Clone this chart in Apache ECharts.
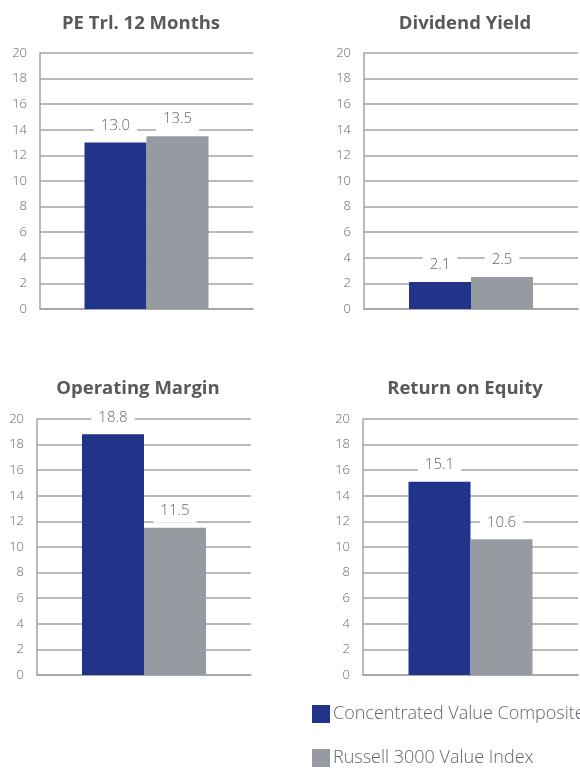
<!DOCTYPE html>
<html lang="en">
<head>
    <meta charset="UTF-8">
    <title>Portfolio characteristics</title>
    <script src="https://cdn.jsdelivr.net/npm/echarts@6/dist/echarts.min.js"></script>
    <style>
        html, body { margin: 0; padding: 0; background: #fff; }
        #main { width: 580px; height: 768px; }
    </style>
</head>
<body>
<div id="main"></div>
<script type="text/javascript">
    // values
    var metrics = ['PE Trl. 12 Months', 'Dividend Yield', 'Operating Margin', 'Return on Equity'];
    var seriesNames = ['Concentrated Value Composite', 'Russell 3000 Value Index'];
    var composite = [13.0, 2.1, 18.8, 15.1];
    var russell = [13.5, 2.5, 11.5, 10.6];
    var yMin = 0, yMax = 20, yStep = 2;

    var colors = ['#21338a', '#969ba1'];
    var lineColor = '#a3a3a3';
    var font = '"Open Sans", "Noto Sans", sans-serif';

    // panel boxes (left, top, width, height)
    var panels = [
        { left: 40, top: 53, width: 213, height: 256, titleX: 136, titleY: 9 },
        { left: 364, top: 53, width: 214, height: 256, titleX: 460, titleY: 9 },
        { left: 37, top: 419, width: 214, height: 256, titleX: 133, titleY: 374 },
        { left: 363, top: 419, width: 215, height: 256, titleX: 460, titleY: 374 }
    ];

    var grids = [], xAxes = [], yAxes = [], titles = [], series = [];
    panels.forEach(function (p, i) {
        grids.push({ left: p.left, top: p.top, width: p.width, height: p.height });
        titles.push({
            text: metrics[i],
            left: p.titleX,
            top: p.titleY,
            textAlign: 'center',
            textStyle: { fontFamily: font, fontSize: 18.5, fontWeight: 'bold', color: '#595959' }
        });
        xAxes.push({
            type: 'category',
            gridIndex: i,
            data: [''],
            axisTick: { show: false },
            axisLabel: { show: false },
            axisLine: { show: true, lineStyle: { color: lineColor, width: 1.5 } }
        });
        yAxes.push({
            type: 'value',
            gridIndex: i,
            min: yMin,
            max: yMax,
            interval: yStep,
            axisLine: { show: true, lineStyle: { color: lineColor, width: 1.5 } },
            axisTick: { show: false },
            axisLabel: { margin: 13, fontFamily: font, fontSize: 13, fontWeight: 300, color: '#666' },
            splitLine: { show: true, lineStyle: { color: lineColor, width: 1.5 } }
        });
        [composite, russell].forEach(function (vals, k) {
            series.push({
                type: 'bar',
                name: seriesNames[k],
                xAxisIndex: i,
                yAxisIndex: i,
                data: [vals[i]],
                barWidth: 62,
                barGap: '0%',
                itemStyle: { color: colors[k] },
                label: {
                    show: true,
                    position: 'top',
                    distance: 5,
                    formatter: function (d) { return d.value.toFixed(1); },
                    fontFamily: font,
                    fontSize: 15,
                    fontWeight: 300,
                    color: '#666',
                    lineHeight: 18,
                    backgroundColor: '#fff',
                    padding: [3, 7]
                }
            });
        });
    });

    var myChart = echarts.init(document.getElementById('main'));
    var option = {
        animation: false,
        title: titles,
        grid: grids,
        xAxis: xAxes,
        yAxis: yAxes,
        legend: {
            data: seriesNames,
            orient: 'vertical',
            left: 312,
            top: 705,
            padding: 0,
            icon: 'rect',
            itemWidth: 18,
            itemHeight: 18,
            itemGap: 26,
            selectedMode: false,
            textStyle: { fontFamily: font, fontSize: 18, lineHeight: 18, fontWeight: 300, color: '#5f6670', padding: [0, 0, 0, -2] }
        },
        series: series
    };
    myChart.setOption(option);
</script>
</body>
</html>
